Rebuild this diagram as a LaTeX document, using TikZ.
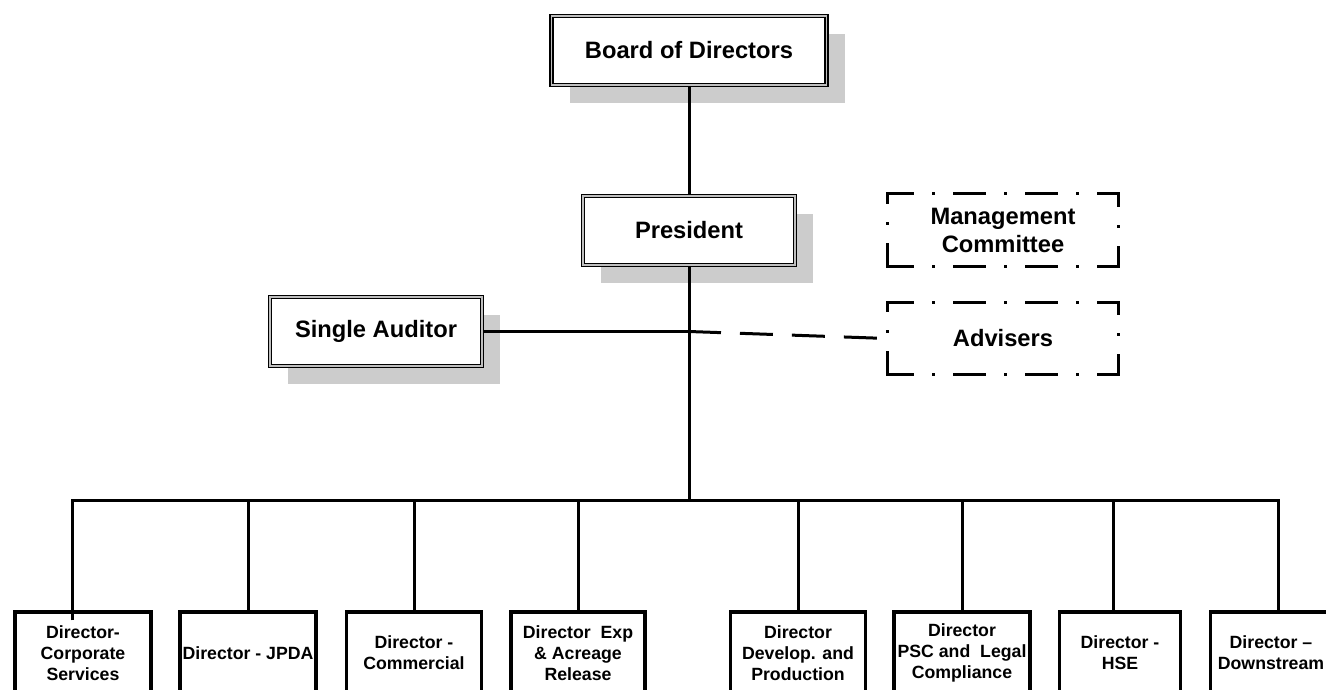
\documentclass[tikz,border=0pt]{standalone}
\usepackage{fontspec}
\setmainfont{Liberation Sans}
\usetikzlibrary{shadows}

\tikzset{
    headbox/.style={draw, double=black!25, line width=1.5pt, double distance=1.2pt, fill=white,
        inner sep=0pt, minimum height=69pt,
        drop shadow={shadow xshift=18pt, shadow yshift=-18pt, fill=black!20, opacity=1},
        font=\fontsize{23.7}{28}\selectfont\bfseries},
    cmtbox/.style={inner sep=0pt, minimum width=231pt, minimum height=72pt, align=center,
        font=\fontsize{23.7}{28}\selectfont\bfseries},
    dirbox/.style={draw, line width=3.5pt, inner sep=0pt, minimum height=82pt, align=center,
        font=\fontsize{17.7}{21}\selectfont\bfseries},
    dashdot/.style={line width=3.2pt, line cap=rect, dash pattern=on 30pt off 21pt on 0.01pt off 21pt},
    link/.style={line width=3pt}
}

\begin{document}
\begin{tikzpicture}[x=1pt, y=-1pt]
    \clip (0,0) rectangle (1326,689);

    \node[headbox, minimum width=275pt] (board) at (689,50.5) {Board of Directors};
    \node[headbox, minimum width=212pt] (pres) at (689,230.5) {President};
    \node[headbox, minimum width=212pt] (aud) at (376,331.5) {Single Auditor};

    \node[cmtbox] (mgmt) at (1003,230) {Management\\Committee};
    \node[cmtbox] (adv) at (1003,338.5) {Advisers};

    \draw[dashdot, dash phase=4.5pt] (mgmt.north west) -- (mgmt.north east);
    \draw[dashdot, dash phase=18.5pt] (mgmt.north east) -- (mgmt.south east);
    \draw[dashdot, dash phase=4.5pt] (mgmt.south west) -- (mgmt.south east);
    \draw[dashdot, dash phase=21.5pt] (mgmt.north west) -- (mgmt.south west);

    \draw[dashdot, dash phase=4.5pt] (adv.north west) -- (adv.north east);
    \draw[dashdot, dash phase=18.5pt] (adv.north east) -- (adv.south east);
    \draw[dashdot, dash phase=4.5pt] (adv.south west) -- (adv.south east);
    \draw[dashdot, dash phase=21.5pt] (adv.north west) -- (adv.south west);

    \node[dirbox, minimum width=136pt] (dcorp) at (83,653) {Director-\\Corporate\\Services};
    \node[dirbox, minimum width=136pt] (djpda) at (248,653) {Director - JPDA};
    \node[dirbox, minimum width=135pt] (dcomm) at (414,653) {Director -\\Commercial};
    \node[dirbox, minimum width=134pt] (dexp) at (578,653) {Director\ \ Exp\\\& Acreage\\Release};
    \node[dirbox, minimum width=135pt] (ddev) at (798,653) {Director\\Develop. and\\Production};
    \node[dirbox, minimum width=136pt] (dpsc) at (962,653) {Director\\PSC and\ \ Legal\\Compliance};
    \node[dirbox, minimum width=121pt] (dhse) at (1120,653) {Director -\\HSE};
    \node[dirbox, minimum width=121pt] (ddown) at (1271,653) {Director –\\Downstream};

    \coordinate (bus) at (688,500);
    \coordinate (j1) at ([xshift=-11pt]dcorp.north);
    \coordinate (j7) at ([xshift=-7pt]dhse.north);
    \coordinate (j8) at ([xshift=7pt]ddown.north);

    \draw[link] (board) -- (pres);
    \draw[link] (pres.south) -- (pres.south |- bus);
    \draw[link] (aud.east) -- (pres.south |- aud.east) coordinate (junc);
    \draw[link, dash pattern=on 33pt off 19pt, dash phase=1pt] (junc) -- (adv.west);

    \draw[link] ([yshift=-10pt]j1) -- (j1 |- bus) -- (j8 |- bus) -- (j8);
    \draw[link] (djpda.north) -- (djpda.north |- bus);
    \draw[link] (dcomm.north) -- (dcomm.north |- bus);
    \draw[link] (dexp.north) -- (dexp.north |- bus);
    \draw[link] (ddev.north) -- (ddev.north |- bus);
    \draw[link] (dpsc.north) -- (dpsc.north |- bus);
    \draw[link] (j7) -- (j7 |- bus);

\end{tikzpicture}
\end{document}
